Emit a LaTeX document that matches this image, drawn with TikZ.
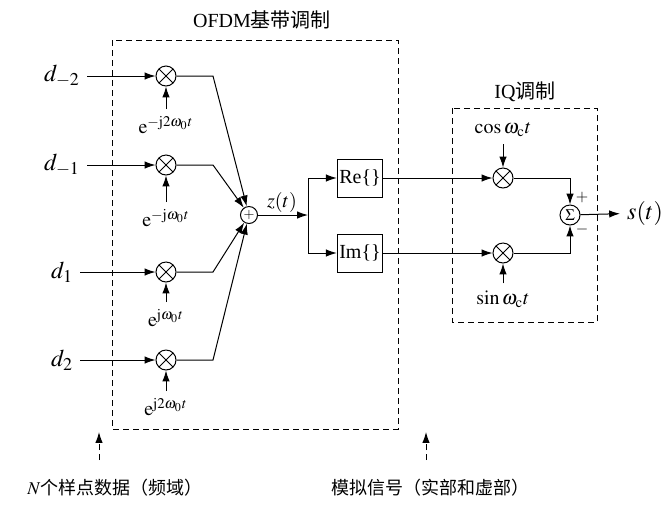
\documentclass[tikz,border=0pt]{standalone}
\usepackage{mathptmx}
\usepackage[no-math]{fontspec}
\setmainfont{Liberation Serif}
\newfontfamily\cjk{Noto Sans CJK SC}
\usetikzlibrary{arrows.meta}

\begin{document}
\begin{tikzpicture}[x=0.5pt,y=-0.5pt,line width=0.5pt,>={Latex[length=1.9mm,width=1.3mm]},
  mult/.style={circle,draw,minimum size=10pt,inner sep=0pt,
    path picture={\draw (path picture bounding box.north west)--(path picture bounding box.south east)
                        (path picture bounding box.south west)--(path picture bounding box.north east);}},
  bloque/.style={draw,minimum width=22.5pt,minimum height=19pt,inner sep=1pt},
  marco/.style={draw,dashed,dash pattern=on 3pt off 2pt}]
  \useasboundingbox (0,0) rectangle (669,505);
  % modulacion OFDM en banda base
  \draw[marco] (112,40) rectangle (398,429);
  \node (tofdm) at (262,20) {OFDM{\cjk 基带调制}};
  \foreach \i/\y/\k/\ex/\ey in {1/76/-2/-\mathrm{j}2\omega_0t/125, 2/165/-1/-\mathrm{j}\omega_0t/218,
                                3/272/1/\mathrm{j}\omega_0t/318, 4/360/2/\mathrm{j}2\omega_0t/407}{
     \node[font=\large] (d\i) at (62,\y) {$d_{\k}$};
     \node[mult] (m\i) at (166,\y) {};
     \node (e\i) at (166,\ey) {$\mathrm{e}^{\ex}$};
     \draw[->] (d\i) -- (m\i);
     \draw[->] (e\i) -- (m\i);}
  % suma y z(t)
  \node[circle,draw,minimum size=8.5pt,inner sep=0pt,font=\scriptsize] (sum) at (249,215) {$+$};
  \foreach \i in {1,...,4} \draw[->] (m\i) -- ++(47,0) -- (sum);
  \node (zt) at (282,202) {$z(t)$};
  \coordinate (jz) at (308,215);
  \draw[->] (sum) -- (jz);
  \node[bloque] (re) at (360,178) {Re\{\}};
  \node[bloque] (im) at (360,253) {Im\{\}};
  \draw[->] (jz) |- (re);
  \draw[->] (jz) |- (im);
  % modulacion IQ
  \draw[marco] (452,108) rectangle (597,322);
  \node (tiq) at (525,92) {IQ{\cjk 调制}};
  \node[mult] (q1) at (503,178) {};
  \node[mult] (q2) at (503,253) {};
  \node (cos) at (503,130) {$\cos\omega_{\mathrm{c}}t$};
  \node (sin) at (503,299) {$\sin\omega_{\mathrm{c}}t$};
  \draw[->] (re) -- (q1);
  \draw[->] (im) -- (q2);
  \draw[->] (cos) -- (q1);
  \draw[->] (sin) -- (q2);
  \node[circle,draw,minimum size=10pt,inner sep=0pt,font=\footnotesize] (sig) at (570,215) {$\Sigma$};
  \draw[->] (q1) -| (sig);
  \draw[->] (q2) -| (sig);
  \node[font=\footnotesize] (mas) at (582,197) {$+$};
  \node[font=\footnotesize] (menos) at (582,229) {$-$};
  \node[font=\large] (st) at (645,213) {$s(t)$};
  \draw[->] (sig) -- (st);
  % notas de abajo
  \node[font=\fontsize{9}{11}\selectfont] (nlab) at (115,488) {$N${\cjk 个样点数据（频域）}};
  \node[font=\fontsize{9}{11}\selectfont] (alab) at (430,488) {\cjk 模拟信号（实部和虚部）};
  \coordinate (a1) at (99,432); \coordinate (b1) at (99,460);
  \coordinate (a2) at (426,432); \coordinate (b2) at (426,460);
  \draw[->,marco] (b1) -- (a1);
  \draw[->,marco] (b2) -- (a2);
\end{tikzpicture}
\end{document}
